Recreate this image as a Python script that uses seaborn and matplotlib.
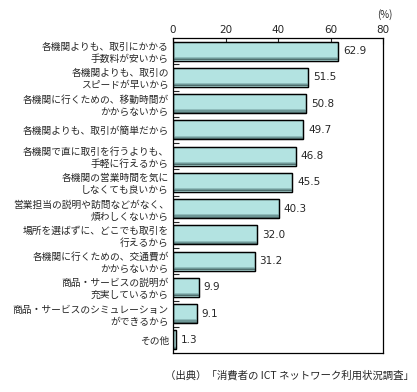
import matplotlib
matplotlib.use('Agg')
import matplotlib.pyplot as plt
import seaborn as sns
import pandas as pd
from matplotlib.patches import Rectangle

sns.set_style("white")
plt.rcParams['font.family'] = ['Noto Sans CJK JP', 'DejaVu Sans']

# -------------------------------Datos
razones = [
    '各機関よりも、取引にかかる\n手数料が安いから',
    '各機関よりも、取引の\nスピードが早いから',
    '各機関に行くための、移動時間が\nかからないから',
    '各機関よりも、取引が簡単だから',
    '各機関で直に取引を行うよりも、\n手軽に行えるから',
    '各機関の営業時間を気に\nしなくても良いから',
    '営業担当の説明や訪問などがなく、\n煩わしくないから',
    '場所を選ばずに、どこでも取引を\n行えるから',
    '各機関に行くための、交通費が\nかからないから',
    '商品・サービスの説明が\n充実しているから',
    '商品・サービスのシミュレーション\nができるから',
    'その他',
]
porcentajes = [62.9, 51.5, 50.8, 49.7, 46.8, 45.5, 40.3, 32.0, 31.2, 9.9, 9.1, 1.3]
ticks_x = [0, 20, 40, 60, 80]

df = pd.DataFrame({'razon': razones, 'valor': porcentajes})

fig = plt.figure(figsize=(4.17, 3.92), dpi=100)
ax = fig.add_axes([173 / 417, 1 - 353 / 392, 210 / 417, 315 / 392])

sns.barplot(data=df, x='valor', y='razon', color='#b3e3e1', edgecolor='black',
            linewidth=0.9, width=0.72, saturation=1, ax=ax)

# Sombra oscura en la parte inferior de cada barra
for p in ax.patches:
    x0, y0 = p.get_x(), p.get_y()
    w, h = p.get_width(), p.get_height()
    for k, col in enumerate(['#8fbcbb', '#6e9796', '#4f6e6d']):
        ax.add_patch(Rectangle((x0, y0 + h * (0.80 + 0.06 * k)), w, h * 0.06,
                               facecolor=col, edgecolor='none', zorder=p.get_zorder() + 0.1))
    ax.add_patch(Rectangle((x0, y0), w, h, facecolor='none', edgecolor='black',
                           linewidth=0.9, zorder=p.get_zorder() + 0.2))

for i, v in enumerate(porcentajes):
    ax.text(v + 1.8, i, f'{v:.1f}', va='center', ha='left', fontsize=7.5,
            family=['DejaVu Sans'])

ax.set_xlim(0, 80)
ax.set_ylim(len(razones) - 0.5, -0.5)
ax.xaxis.tick_top()
ax.set_xticks(ticks_x)
ax.set_xticklabels([str(t) for t in ticks_x], fontsize=7.5, family=['DejaVu Sans'])
ax.tick_params(axis='x', direction='in', length=4, width=0.8, pad=2, top=True, bottom=False)
ax.set_yticks(range(len(razones)))
ax.set_yticklabels(razones, fontsize=7, linespacing=1.25)
ax.tick_params(axis='y', length=0, pad=3)
ax.set_yticks([i + 0.5 for i in range(len(razones) - 1)], minor=True)
ax.tick_params(axis='y', which='minor', direction='in', length=4, width=0.8, left=True)
ax.set_xlabel('')
ax.set_ylabel('')
for s in ax.spines.values():
    s.set_color('black')
    s.set_linewidth(0.9)

fig.text(392 / 417, 1 - 15 / 392, '(%)', ha='right', va='center', fontsize=7)
fig.text(414 / 417, 1 - 375 / 392, '（出典）「消費者の ICT ネットワーク利用状況調査」',
         ha='right', va='center', fontsize=7.5)

plt.savefig('out.png', dpi=100)
plt.close()
